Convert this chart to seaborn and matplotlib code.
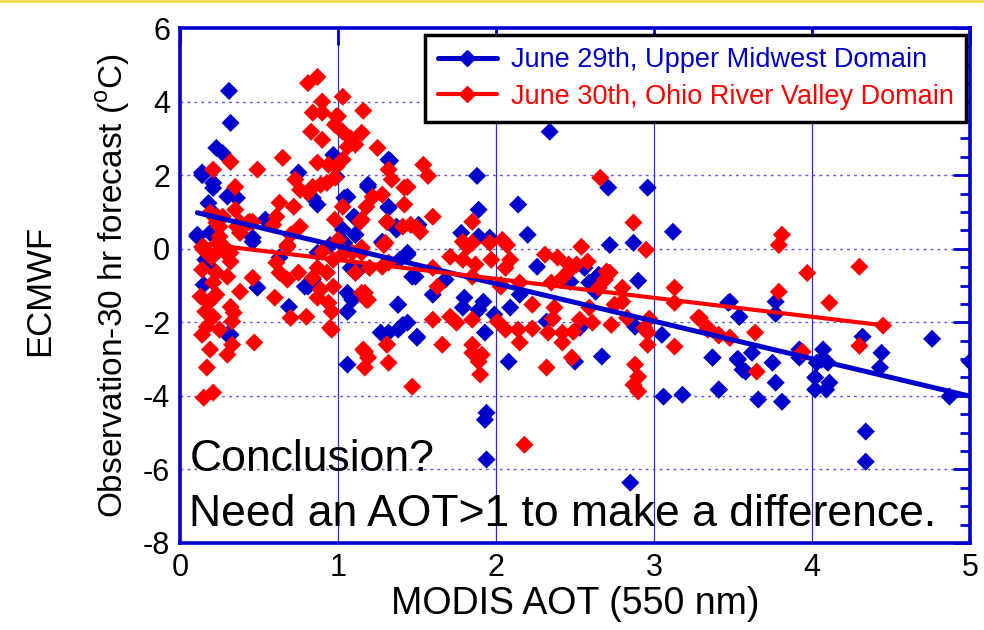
import numpy as np
import pandas as pd
import matplotlib
matplotlib.use("Agg")
import matplotlib.pyplot as plt
from matplotlib.lines import Line2D
from matplotlib.patches import Rectangle
from matplotlib.ticker import MultipleLocator
import seaborn as sns

# ---- data: MODIS AOT vs. observation minus 30 hr ECMWF forecast ----
june29_aot = [
    0.31, 0.32, 0.23, 0.27, 0.14, 0.21, 0.21, 0.30, 0.36, 0.18, 0.21, 0.54, 0.11, 0.19, 0.46,
    0.75, 0.87, 0.84, 0.97, 0.99, 1.32, 1.19, 1.06, 1.32, 1.10, 1.37, 1.03, 1.11, 1.28, 1.39,
    1.44, 1.49, 1.13, 1.06, 1.09, 1.06, 1.38, 1.41, 1.32, 1.50, 0.69, 0.49, 0.81, 0.87, 0.95,
    0.30, 0.18, 0.16, 0.19, 0.15, 0.21, 0.32, 0.84, 0.79, 0.63, 0.46, 0.11, 0.14, 1.33, 1.88,
    1.19, 1.32, 1.89, 1.04, 1.11, 1.37, 1.51, 1.78, 1.89, 1.96, 1.11, 1.04, 1.28, 1.08, 1.11,
    1.08, 1.06, 1.44, 1.47, 1.68, 1.60, 1.80, 1.79, 1.92, 1.89, 1.99, 1.38, 1.44, 1.38, 1.27,
    1.50, 1.93, 1.06, 1.94, 1.93, 1.94, 2.34, 2.71, 2.96, 2.14, 2.20, 3.12, 2.72, 2.87, 2.26,
    2.56, 2.65, 2.47, 2.59, 2.63, 2.90, 2.15, 2.09, 2.32, 2.53, 2.88, 3.05, 3.48, 3.54, 2.08,
    2.50, 2.67, 3.37, 3.53, 3.56, 3.06, 3.18, 3.41, 2.85, 3.47, 3.54, 3.77, 3.77, 4.32, 4.76,
    5.00, 3.37, 3.53, 3.62, 3.58, 3.75, 3.92, 3.92, 4.07, 4.06, 4.10, 4.03, 4.44, 4.43, 4.02,
    4.11, 4.09, 4.02, 3.77, 3.41, 3.66, 3.81, 4.87, 4.34, 4.34,
]
june29_diff = [
    4.29, 3.42, 2.74, 2.60, 2.07, 1.79, 1.65, 1.42, 1.38, 1.24, 0.98, 0.79, 0.38, 0.43, 0.30,
    2.07, 1.20, 1.38, 2.55, 1.96, 2.42, 1.74, 1.41, 1.14, 0.87, 0.60, 0.52, 0.38, 0.19, -0.30,
    -0.11, -0.76, -0.57, -1.20, -1.39, -1.71, -1.52, -2.07, -2.28, -2.39, -1.58, -1.06, -1.03, -0.11, 0.10,
    -2.34, -0.16, -0.30, -0.49, -0.98, -1.33, -2.34, -0.84, -1.03, -0.24, 0.19, 0.33, 2.00, 2.39, 1.98,
    1.68, 1.11, 1.06, 1.38, 0.84, 0.52, 0.65, 0.43, 0.33, 0.30, 0.38, 0.16, 0.16, -0.52, -0.65,
    -1.30, -1.71, -0.16, -0.76, -0.84, -1.25, -1.33, -1.60, -1.44, -1.66, -1.79, -1.52, -2.01, -2.20, -2.28,
    -2.42, -2.28, -3.15, -4.46, -4.65, -5.73, 3.18, 1.66, 1.66, 1.20, 0.38, 0.46, 0.10, 0.16, -0.49,
    -0.52, -0.71, -0.90, -0.92, -1.17, -0.87, -1.25, -1.60, -1.98, -2.15, -2.12, -2.34, -1.44, -1.85, -3.07,
    -3.07, -2.93, -2.96, -2.99, -3.29, -4.02, -3.97, -3.83, -6.36, -1.47, -1.85, -1.44, -1.77, -2.39, -2.45,
    -3.07, -2.96, -3.02, -2.83, -3.34, -3.10, -2.74, -2.96, -2.74, -3.02, -3.10, -3.10, -2.83, -3.23, -3.50,
    -3.64, -3.83, -3.83, -3.64, -3.83, -4.10, -4.16, -4.02, -4.97, -5.79,
]

june30_aot = [
    0.87, 0.81, 0.90, 0.84, 0.90, 0.99, 0.98, 0.83, 0.90, 0.32, 0.65, 0.21, 0.49, 0.87, 0.94,
    0.35, 0.73, 0.76, 0.84, 0.89, 0.81, 0.93, 0.98, 0.63, 0.72, 0.35, 0.23, 0.27, 0.38, 0.44,
    0.61, 0.59, 0.25, 0.38, 0.70, 0.76, 0.15, 0.24, 0.68,
    1.03, 1.16, 1.03, 1.08, 1.15, 1.11, 1.06, 1.25, 1.03, 0.99, 1.32, 1.34, 1.44, 1.54, 1.22,
    1.28, 1.42, 1.18, 1.15, 1.31, 1.41, 1.50, 1.03, 0.98, 1.00, 1.09, 1.15, 1.29, 1.32, 1.20,
    1.11, 1.15, 1.18, 1.31, 1.16, 0.95,
    0.14, 0.25, 0.30, 0.32, 0.14, 0.23, 0.30, 0.21, 0.46, 0.38, 0.13, 0.23, 0.18, 0.32, 0.16,
    0.34, 0.21, 0.33, 0.17, 0.25, 0.14, 0.33, 0.47, 0.19, 0.30, 0.17, 0.15, 0.21, 0.60, 0.61,
    0.70, 0.80, 0.96, 0.63, 0.68, 0.75, 0.84, 0.87, 0.93, 0.89, 0.97, 0.87, 0.94, 0.96, 0.68,
    0.90, 0.97, 0.19, 0.23, 0.25, 0.28, 0.15, 0.20, 0.32, 0.36, 0.43, 0.46,
    1.00, 1.57, 1.42, 1.14, 1.31, 1.60, 1.46, 1.52, 1.85, 1.79, 1.85, 1.96, 2.04, 1.30,
    1.04, 1.15, 1.28, 1.60, 1.71, 1.79, 1.87, 1.97, 1.82, 1.63, 1.85, 2.03, 1.17, 1.19, 1.60,
    1.71, 1.75, 1.85, 1.31, 1.17, 1.19, 1.17, 1.32, 1.66, 1.85, 1.85, 1.91, 1.89, 1.90, 1.47,
    2.66, 2.87, 2.95, 2.54, 2.07, 2.09, 2.06, 2.31, 2.39, 2.47, 2.51, 2.58, 2.72, 2.69, 2.42,
    2.35, 2.15, 2.03, 2.80, 3.13, 3.13, 2.80, 2.75, 2.23, 2.37, 2.59, 2.83, 2.97, 2.01, 2.36,
    2.53, 2.61, 2.73, 2.94, 2.06, 2.14, 2.23, 2.33, 2.42, 2.49, 2.96, 3.29, 3.34, 3.41, 3.48,
    2.15, 2.42, 2.96, 3.13, 2.48, 2.32, 2.88, 2.90, 2.87, 2.90, 2.18, 2.65, 2.70, 2.46,
    3.81, 3.79, 3.97, 3.79, 4.30, 4.11, 3.28, 3.34, 3.41, 3.48, 3.64, 4.45, 4.30, 3.94, 3.65,
]
june30_diff = [
    4.67, 4.50, 4.00, 3.70, 3.70, 3.60, 3.37, 3.18, 2.96, 2.36, 2.47, 2.15, 2.15, 2.34, 2.28,
    1.68, 1.88, 1.60, 1.68, 1.74, 1.52, 1.79, 1.93, 1.25, 1.14, 1.06, 0.87, 0.87, 0.71, 0.73,
    0.87, 0.65, 0.60, 0.43, 0.38, 0.60, 0.05, 0.16, 0.10,
    4.13, 3.75, 3.18, 3.00, 3.15, 2.83, 2.77, 2.74, 2.42, 2.23, 2.15, 1.88, 1.68, 2.28, 1.41,
    1.47, 1.20, 1.14, 0.79, 0.73, 0.60, 0.57, 1.14, 0.79, 0.24, -0.11, 0.03, 0.10, -0.38, -0.52,
    -0.65, -1.20, -1.39, -2.60, -2.74, -2.15,
    0.05, -0.03, -0.16, -0.35, -0.57, -0.65, -0.76, -0.92, -0.79, -1.17, -1.30, -1.25, -1.47, -1.58, -1.71,
    -1.74, -1.85, -1.98, -2.12, -2.20, -2.34, -2.61, -2.55, -2.74, -2.88, -3.23, -4.05, -3.91, -1.33, -0.38,
    -1.88, -1.85, -2.20, -0.65, -0.84, -0.65, -0.79, -0.52, -0.65, -1.11, -1.03, -1.33, -1.47, -1.71, 0.05,
    -0.08, -0.30, 0.98, 0.71, 0.33, 0.05, -0.03, -0.24, -0.11, 0.60, 0.71, 0.73,
    3.60, 1.98, 1.66, 0.73, 0.73, 0.87, 0.65, 0.46, 0.73, 0.19, 0.16, 0.16, 0.24, 0.16,
    -0.11, -0.11, -0.49, -0.52, -0.22, -0.30, -0.43, -0.30, 0.05, -1.03, -0.76, -0.98, -1.20, -1.39, -1.93,
    -1.85, -2.01, -1.93, -2.61, -2.80, -2.96, -3.23, -3.10, -2.61, -2.61, -2.83, -2.88, -3.07, -3.42, -3.75,
    1.93, 0.71, -0.03, 0.05, 0.10, -0.30, -0.52, -0.16, -0.24, -0.57, -0.43, -0.35, -0.65, -0.84, -0.79,
    -0.92, -0.92, -1.03, -1.06, -1.06, -1.47, -1.44, -1.52, -1.52, -1.60, -1.60, -1.88, -1.90, -1.98, -1.90,
    -1.93, -2.01, -2.07, -2.15, -2.20, -2.20, -2.17, -2.28, -2.28, -2.26, -2.28, -1.88, -2.20, -2.34, -2.42,
    -2.55, -2.55, -2.61, -2.66, -2.96, -3.23, -3.15, -3.48, -3.70, -3.88, -5.33, -1.06, -0.62, -0.43,
    0.38, 0.10, -0.66, -1.17, -0.49, -1.47, -1.88, -2.15, -2.36, -2.42, -2.28, -2.09, -2.64, -2.80, -3.34,
]

# linear fits (slope, intercept) for each day
june29_fit = (-1.02, 1.09)
june30_fit = (-0.515, 0.21)

series_labels = ["June 29th, Upper Midwest Domain", "June 30th, Ohio River Valley Domain"]
x_ticks = [0, 1, 2, 3, 4, 5]
y_ticks = [-8, -6, -4, -2, 0, 2, 4, 6]

BLUE = "#0000cc"
RED = "#ff0000"
FRAME = "#0000d0"

sns.set_style("white")
plt.rcParams["font.family"] = ["Liberation Sans", "DejaVu Sans"]
plt.rcParams["mathtext.fontset"] = "custom"
plt.rcParams["mathtext.rm"] = "Liberation Sans"
plt.rcParams["axes.unicode_minus"] = False
plt.rcParams["text.color"] = "black"
plt.rcParams["axes.labelcolor"] = "black"

fig = plt.figure(figsize=(9.84, 6.30), dpi=100)
ax = fig.add_axes([180 / 984, 1 - 543 / 630, 790 / 984, 515 / 630])

df29 = pd.DataFrame({"aot": june29_aot, "diff": june29_diff})
df30 = pd.DataFrame({"aot": june30_aot, "diff": june30_diff})

# grid first so the points sit above it
for xv in x_ticks[1:-1]:
    ax.axvline(xv, color="#2a2ad8", lw=0.9, zorder=0)
for yv in y_ticks[1:-1]:
    ax.axhline(yv, color="#5a5ae6", lw=1.0, ls=(0, (2, 3)), zorder=0)

sns.scatterplot(data=df29, x="aot", y="diff", marker="D", s=85, color=BLUE,
                edgecolor="none", linewidth=0, ax=ax, zorder=3, legend=False)
sns.scatterplot(data=df30, x="aot", y="diff", marker="D", s=85, color=RED,
                edgecolor="none", linewidth=0, ax=ax, zorder=4, legend=False)

# regression lines over each day's AOT range
for df, (m, b), c, lw in [(df29, june29_fit, BLUE, 3.6), (df30, june30_fit, RED, 3.0)]:
    xr = np.array([df["aot"].min(), df["aot"].max()])
    sns.lineplot(x=xr, y=m * xr + b, color=c, lw=lw, ax=ax, zorder=5)

ax.set_xlim(0, 5)
ax.set_ylim(-8, 6)
ax.set_xticks(x_ticks)
ax.set_yticks(y_ticks)
ax.yaxis.set_minor_locator(MultipleLocator(0.5))
ax.tick_params(axis="both", which="both", direction="in", top=True, right=True,
               color=FRAME, labelsize=22, labelcolor="black", pad=7)
ax.tick_params(axis="both", which="major", length=12, width=2)
ax.tick_params(axis="y", which="minor", length=7, width=2)
for sp in ax.spines.values():
    sp.set_color(FRAME)
    sp.set_linewidth(2.6)
    sp.set_visible(True)

ax.set_xlabel("MODIS AOT (550 nm)", fontsize=27, labelpad=2)
ax.set_ylabel("Observation-30 hr forecast ($^{\\mathrm{o}}$C)", fontsize=24, labelpad=8)
fig.text(40 / 984, 1 - 290 / 630, "ECMWF", rotation=90, fontsize=25,
         ha="center", va="center")

ax.text(0.06, -5.73, "Conclusion?", fontsize=32, va="center", ha="left", zorder=6)
ax.text(0.06, -7.23, "Need an AOT>1 to make a difference.", fontsize=32,
        va="center", ha="left", zorder=6)

handles = [
    Line2D([], [], color=BLUE, lw=3.6, marker="D", markersize=8),
    Line2D([], [], color=RED, lw=3.0, marker="D", markersize=8),
]
leg = ax.legend(handles, series_labels, loc="upper right", bbox_to_anchor=(0.998, 0.992),
                borderaxespad=0.1, labelcolor=[BLUE, RED], frameon=True, fancybox=False,
                handlelength=2.2, borderpad=0.45, labelspacing=0.4, handletextpad=0.5,
                prop={"family": ["Liberation Sans", "DejaVu Sans"], "size": 19.5})
leg.get_frame().set_edgecolor("black")
leg.get_frame().set_linewidth(2.5)
leg.get_frame().set_alpha(1)
leg.set_zorder(10)

# thin accent rule along the top edge
fig.add_artist(Rectangle((0, 1 - 3 / 630), 1, 3 / 630, transform=fig.transFigure,
                         color="#f7dc55", lw=0))

fig.savefig("out.png", dpi=100)
